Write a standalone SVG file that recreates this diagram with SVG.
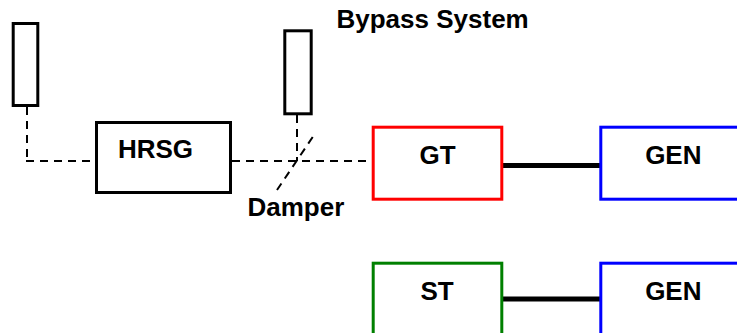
<svg xmlns="http://www.w3.org/2000/svg" width="737" height="333" viewBox="0 0 737 333">
<style>
.box{fill:#fff;stroke-width:3}
.k{stroke:#000}
.dash{fill:none;stroke:#000;stroke-width:2;stroke-dasharray:8 6}
.shaft{stroke:#000;stroke-width:5}
text{font-family:"Liberation Sans",Arial,sans-serif;font-weight:bold;font-size:26px;fill:#000}
.c{text-anchor:middle}
</style>
<rect width="737" height="333" fill="#fff"/>
<g id="connectors">
<path class="dash" d="M27 107 V161"/>
<path class="dash" d="M26 161 H95"/>
<path class="dash" d="M232 161 H371"/>
<path class="dash" d="M297 115 V161"/>
<path class="dash" d="M312.7 137 L277 190"/>
<line class="shaft" x1="503" y1="165.5" x2="600" y2="165.5"/>
<line class="shaft" x1="503" y1="299" x2="600" y2="299"/>
</g>
<g id="stack-left"><rect class="box k" x="13.2" y="23.5" width="24.6" height="82"/></g>
<g id="stack-bypass"><rect class="box k" x="284.8" y="30.8" width="26.4" height="83"/></g>
<g id="bypass-label"><text x="336.5" y="28">Bypass System</text></g>
<g id="damper-label"><text x="247.5" y="216">Damper</text></g>
<g id="hrsg"><rect class="box k" x="96.5" y="122.5" width="134" height="70"/><text x="155.5" y="158" class="c">HRSG</text></g>
<g id="gt"><rect class="box" stroke="#ff0000" x="373.2" y="127.2" width="128.6" height="72"/><text x="437.5" y="164.3" class="c">GT</text></g>
<g id="gen1"><rect class="box" stroke="#0000ff" x="600.8" y="127.2" width="150" height="72"/><text x="673.3" y="164.3" class="c">GEN</text></g>
<g id="st"><rect class="box" stroke="#008000" x="373.2" y="263.2" width="128.6" height="80"/><text x="437" y="300" class="c">ST</text></g>
<g id="gen2"><rect class="box" stroke="#0000ff" x="600.8" y="263.2" width="150" height="80"/><text x="673.3" y="300" class="c">GEN</text></g>
</svg>
